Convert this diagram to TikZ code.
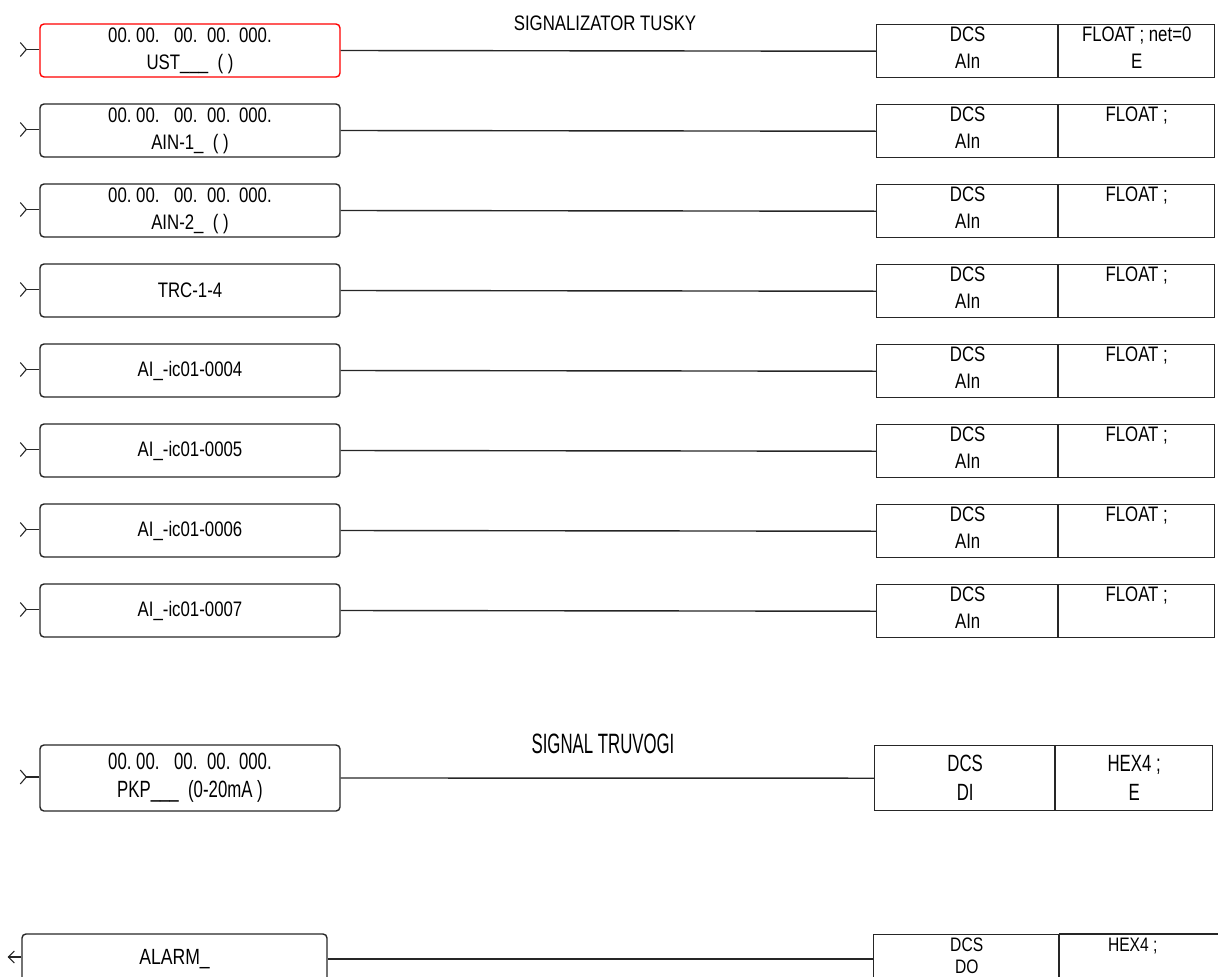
\documentclass[tikz,border=0pt]{standalone}
\usepackage{fontspec}
\setmainfont[FakeStretch=0.8]{Liberation Sans}
\newfontfamily\pkpfont[FakeStretch=0.715]{Liberation Sans}
\newfontfamily\ttlfont[FakeStretch=0.6]{Liberation Sans}
\usetikzlibrary{calc}
\begin{document}
\begin{tikzpicture}[x=1pt,y=-1pt,
  every node/.style={font=\fontsize{21}{27}\selectfont},
  lbox/.style={draw=black!85,line width=1.4pt,rounded corners=4pt,inner sep=0pt,
    minimum width=300pt,minimum height=53pt,align=center},
  redbox/.style={lbox,draw=red},
  dcsbox/.style={draw=black!85,line width=1.4pt,inner sep=0pt,anchor=north west,
    minimum width=182pt,minimum height=53pt},
  typbox/.style={dcsbox,minimum width=156pt},
  wire/.style={line width=1.4pt,draw=black!85},
  divider/.style={line width=2.4pt,draw=black!85},
  title/.style={anchor=base}]
\useasboundingbox (0,0) rectangle (1218,977);

\newcommand{\toptxt}[2]{\parbox[c][53pt][t]{150pt}{\centering\vspace*{2pt}#1\\#2}}
\newcommand{\zeros}{00.\hspace{4.6pt}00.\hspace{14.6pt}00.\hspace{9.6pt}00.\hspace{8.6pt}000.}

\node[title] (t1) at (605,30) {SIGNALIZATOR TUSKY};

% row 1
\node[redbox] (L1) at (190,50.5) {\zeros\\UST\_\_\_ \ ( )};
\node[dcsbox] (D1) at (876,24) {\toptxt{DCS}{AIn}};
\node[typbox] (T1) at (1058,24) {\toptxt{FLOAT ; net=0}{E}};

% row 2
\node[lbox] (L2) at (190,130.5) {\zeros\\AIN-1\_ \ ( )};
\node[dcsbox] (D2) at (876,104) {\toptxt{DCS}{AIn}};
\node[typbox] (T2) at (1058,104) {\toptxt{FLOAT ;}{}};

% row 3
\node[lbox] (L3) at (190,210.5) {\zeros\\AIN-2\_ \ ( )};
\node[dcsbox] (D3) at (876,184) {\toptxt{DCS}{AIn}};
\node[typbox] (T3) at (1058,184) {\toptxt{FLOAT ;}{}};

% row 4
\node[lbox] (L4) at (190,290.5) {TRC-1-4};
\node[dcsbox] (D4) at (876,264) {\toptxt{DCS}{AIn}};
\node[typbox] (T4) at (1058,264) {\toptxt{FLOAT ;}{}};

% row 5
\node[lbox] (L5) at (190,370.5) {AI\_-ic01-0004};
\node[dcsbox] (D5) at (876,344) {\toptxt{DCS}{AIn}};
\node[typbox] (T5) at (1058,344) {\toptxt{FLOAT ;}{}};

% row 6
\node[lbox] (L6) at (190,450.5) {AI\_-ic01-0005};
\node[dcsbox] (D6) at (876,424) {\toptxt{DCS}{AIn}};
\node[typbox] (T6) at (1058,424) {\toptxt{FLOAT ;}{}};

% row 7
\node[lbox] (L7) at (190,530.5) {AI\_-ic01-0006};
\node[dcsbox] (D7) at (876,504) {\toptxt{DCS}{AIn}};
\node[typbox] (T7) at (1058,504) {\toptxt{FLOAT ;}{}};

% row 8
\node[lbox] (L8) at (190,610.5) {AI\_-ic01-0007};
\node[dcsbox] (D8) at (876,584) {\toptxt{DCS}{AIn}};
\node[typbox] (T8) at (1058,584) {\toptxt{FLOAT ;}{}};

\foreach \i in {1,...,8}{
  \draw[wire] (L\i.east) -- (D\i.west);
  \draw[divider] (T\i.north west) -- (T\i.south west);
  \coordinate (in\i) at ($(L\i.west)+(-13,-1)$);
  \draw[wire] (L\i.west|-in\i) -- (in\i);
  \draw[wire,line width=1.1pt] (in\i) ++(-6,-7) -- (in\i) -- ++(-6,7);
}

% row 9
\node[title,font=\ttlfont\fontsize{28}{30}\selectfont] (t2) at (603,753) {SIGNAL TRUVOGI};
\node[lbox,minimum height=66pt,font=\pkpfont\fontsize{23.5}{28}\selectfont] (L9) at (190,778)
  {\zeros\\PKP\_\_\_ \ (0-20mA )};
\node[dcsbox,minimum width=181pt,minimum height=65pt,align=center,
  font=\pkpfont\fontsize{23.5}{29}\selectfont] (D9) at (874,745) {DCS\\DI};
\node[typbox,minimum width=157pt,minimum height=65pt,align=center,
  font=\pkpfont\fontsize{23.5}{29}\selectfont] (T9) at (1055,745) {HEX4 ;\\E};
\draw[wire] (L9.east) -- (D9.west);
\draw[divider] (T9.north west) -- (T9.south west);
\coordinate (in9) at ($(L9.west)+(-13,-1)$);
\draw[wire] (L9.west|-in9) -- (in9);
\draw[wire,line width=1.1pt] (in9) ++(-6,-7) -- (in9) -- ++(-6,7);

% row 10
\node[lbox,minimum width=305pt,minimum height=50pt,font=\fontsize{22}{27}\selectfont] (L10) at (174.5,959) {ALARM\_};
\node[dcsbox,minimum width=186pt,font=\fontsize{19.5}{21.5}\selectfont] (D10) at (873,934)
  {\parbox[c][53pt][t]{150pt}{\centering\vspace*{3.5pt}DCS\\DO}};
\node[typbox,draw=none,minimum width=146pt,font=\fontsize{19.5}{21.5}\selectfont] (T10) at (1059,934)
  {\parbox[c][53pt][t]{140pt}{\centering\vspace*{3.5pt}HEX4 ;}};
\draw[wire] (T10.north west) -- ++(200,0);
\draw[wire] (T10.south west) -- ++(200,0);
\draw[divider] (T10.north west) -- (T10.south west);
\draw[wire] (L10.east) -- (D10.west|-L10.east);
\coordinate (out10) at ($(L10.west)+(-13,-2)$);
\draw[wire] (L10.west|-out10) -- (out10);
\draw[wire,line width=1.1pt] (out10) ++(6,-6) -- (out10) -- ++(6,6);
\end{tikzpicture}
\end{document}
